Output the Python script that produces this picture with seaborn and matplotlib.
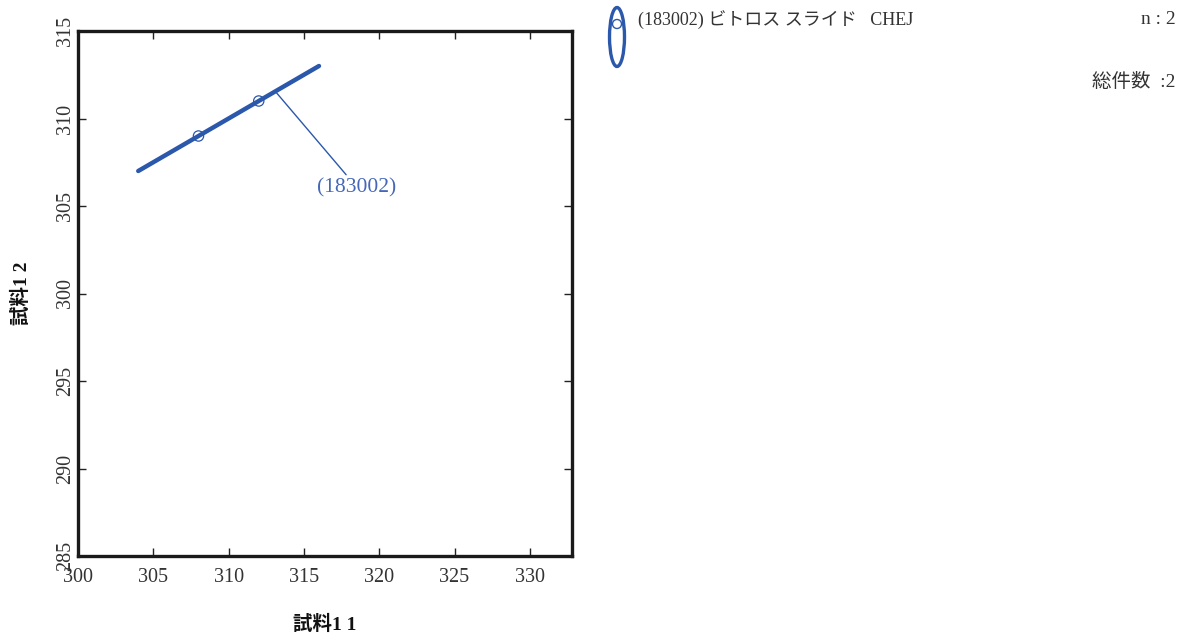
import matplotlib
matplotlib.use("Agg")
import matplotlib.pyplot as plt
from matplotlib.patches import Ellipse, Circle
import seaborn as sns
import pandas as pd

# Lab results for the two samples
lab_id = "(183002)"
legend_label = "(183002) ビトロス スライド   CHEJ"
sample_x = [308, 312]
sample_y = [309, 311]
# Major axis of the equivalence ellipse
axis_x = [304, 316]
axis_y = [307, 313]
n_count = 2
total_count = 2

x_ticks = [300, 305, 310, 315, 320, 325, 330]
y_ticks = [285, 290, 295, 300, 305, 310, 315]
x_label = "試料1 1"
y_label = "試料1 2"

BLUE = "#2b58ab"
TEXT_BLUE = "#4467b8"
SERIF = ["Liberation Serif", "Noto Sans CJK JP", "DejaVu Sans"]

sns.set_theme(style="white")
plt.rcParams["font.family"] = SERIF

fig = plt.figure(figsize=(11.82, 6.38), dpi=100)
ax = fig.add_axes([78 / 1182, 82 / 638, 494 / 1182, 525 / 638])

pts = pd.DataFrame({"x": sample_x, "y": sample_y})
line = pd.DataFrame({"x": axis_x, "y": axis_y})
sns.lineplot(data=line, x="x", y="y", ax=ax, color=BLUE, lw=3.2, estimator=None, sort=False)
sns.scatterplot(data=pts, x="x", y="y", ax=ax, marker="o", s=55, facecolor="none",
                edgecolor=BLUE, linewidth=0.9, zorder=3)

# Label with leader line from the axis
ax.annotate(lab_id, xy=(313.1, 311.55), xytext=(315.9, 306.6),
            color=TEXT_BLUE, fontsize=15.5, ha="left", va="top", family=SERIF,
            arrowprops=dict(arrowstyle="-", color=BLUE, lw=1.0, shrinkA=0, shrinkB=0))

ax.set_xlim(300, 332.8)
ax.set_ylim(285, 315)
ax.set_xticks(x_ticks)
ax.set_yticks(y_ticks)
ax.set_xticklabels([str(v) for v in x_ticks], fontsize=14.5, color="#333333")
ax.set_yticklabels([str(v) for v in y_ticks], fontsize=14.5, color="#333333",
                   rotation=90, va="center")
ax.tick_params(direction="in", length=6, width=1.0, color="#222222",
               top=True, right=True, bottom=True, left=True)
ax.tick_params(axis="x", pad=9)
ax.tick_params(axis="y", pad=2)
ax.set_xlabel(x_label, fontsize=14, fontweight="bold", labelpad=20, color="#111111")
ax.set_ylabel(y_label, fontsize=14, fontweight="bold", labelpad=18, color="#111111")
for sp in ax.spines.values():
    sp.set_visible(True)
    sp.set_color("#1a1a1a")
    sp.set_linewidth(2.4)

# Legend block on the right
fig.add_artist(Ellipse((617, 638 - 37), 15, 59, transform=None, fill=False,
                       edgecolor=BLUE, linewidth=2.4))
fig.add_artist(Circle((617, 638 - 24), 4.5, transform=None, fill=False,
                      edgecolor=BLUE, linewidth=1.0))
fig.text(638 / 1182, 1 - 20 / 638, legend_label, fontsize=13, color="#333333",
         ha="left", va="center", family=SERIF)
fig.text(1176 / 1182, 1 - 20 / 638, f"n : {n_count}", fontsize=14, color="#333333",
         ha="right", va="center", family=SERIF)
fig.text(1176 / 1182, 1 - 82 / 638, f"総件数  :{total_count}", fontsize=14, color="#333333",
         ha="right", va="center", family=SERIF)

fig.savefig("out.png", dpi=100)
